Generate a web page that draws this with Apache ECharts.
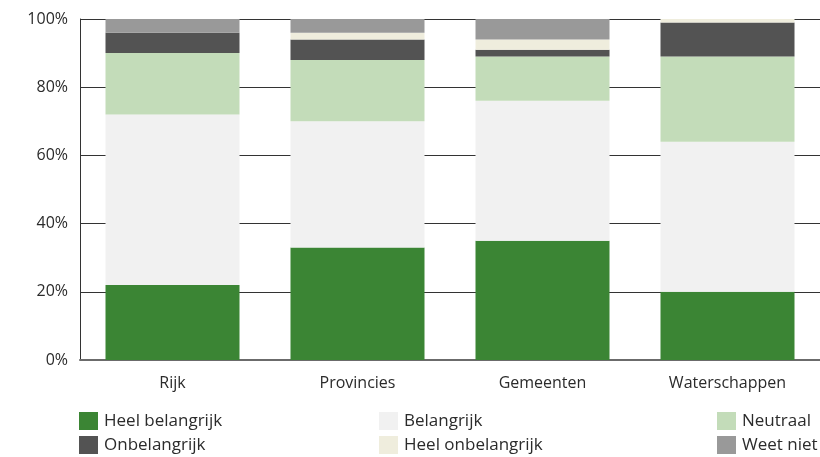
<!DOCTYPE html>
<html>
<head>
<meta charset="utf-8">
<script src="https://cdn.jsdelivr.net/npm/echarts@6/dist/echarts.min.js"></script>
<style>
  html, body { margin: 0; padding: 0; background: #fff; }
  #chart { width: 820px; height: 457px; }
</style>
</head>
<body>
<div id="chart"></div>
<script>
// Overheidslagen op de x-as
const categories = ['Rijk', 'Provincies', 'Gemeenten', 'Waterschappen'];

// Aandeel per antwoordcategorie (%)
const heelBelangrijk   = [22, 33, 35, 20];
const belangrijk       = [50, 37, 41, 44];
const neutraal         = [18, 18, 13, 25];
const onbelangrijk     = [6, 6, 2, 10];
const heelOnbelangrijk = [0, 2, 3, 1];
const weetNiet         = [4, 4, 6, 0];

const yTicks = [0, 20, 40, 60, 80, 100];

const seriesDefs = [
  { name: 'Heel belangrijk',   data: heelBelangrijk,   color: '#3b8534' },
  { name: 'Belangrijk',        data: belangrijk,       color: '#f1f1f1' },
  { name: 'Neutraal',          data: neutraal,         color: '#c3dcb9' },
  { name: 'Onbelangrijk',      data: onbelangrijk,     color: '#535353' },
  { name: 'Heel onbelangrijk', data: heelOnbelangrijk, color: '#efeddd' },
  { name: 'Weet niet',         data: weetNiet,         color: '#999999' }
];

const font = '"Open Sans", "Noto Sans", sans-serif';

const legendBase = {
  orient: 'vertical',
  top: 412,
  itemWidth: 19,
  itemHeight: 18,
  itemGap: 6,
  icon: 'rect',
  selectedMode: false,
  textStyle: { fontFamily: font, fontSize: 17, color: '#2b2b2b', padding: [0, 0, 0, 1] },
  padding: 0
};

const chart = echarts.init(document.getElementById('chart'));
chart.setOption({
  animation: false,
  grid: { left: 80, right: 0, top: 19, bottom: 97 },
  legend: [
    Object.assign({}, legendBase, { left: 79,  data: ['Heel belangrijk', 'Onbelangrijk'] }),
    Object.assign({}, legendBase, { left: 379, data: ['Belangrijk', 'Heel onbelangrijk'] }),
    Object.assign({}, legendBase, { left: 717, data: ['Neutraal', 'Weet niet'] })
  ],
  xAxis: {
    type: 'category',
    data: categories,
    axisLine: { show: true, lineStyle: { color: '#6b6b6b', width: 2 } },
    axisTick: { show: false },
    axisLabel: { fontFamily: font, fontSize: 16, color: '#2b2b2b', margin: 15 }
  },
  yAxis: {
    type: 'value',
    min: yTicks[0],
    max: yTicks[yTicks.length - 1],
    interval: 20,
    axisLine: { show: true, lineStyle: { color: '#333', width: 1 } },
    axisTick: { show: false },
    axisLabel: {
      fontFamily: font, fontSize: 16, color: '#2b2b2b', margin: 12,
      formatter: v => v + '%'
    },
    splitLine: { show: true, lineStyle: { color: '#333', width: 1 } }
  },
  series: seriesDefs.map(s => ({
    name: s.name,
    type: 'bar',
    stack: 'totaal',
    barWidth: 134,
    data: s.data,
    itemStyle: { color: s.color },
    emphasis: { disabled: true }
  }))
});
</script>
</body>
</html>
